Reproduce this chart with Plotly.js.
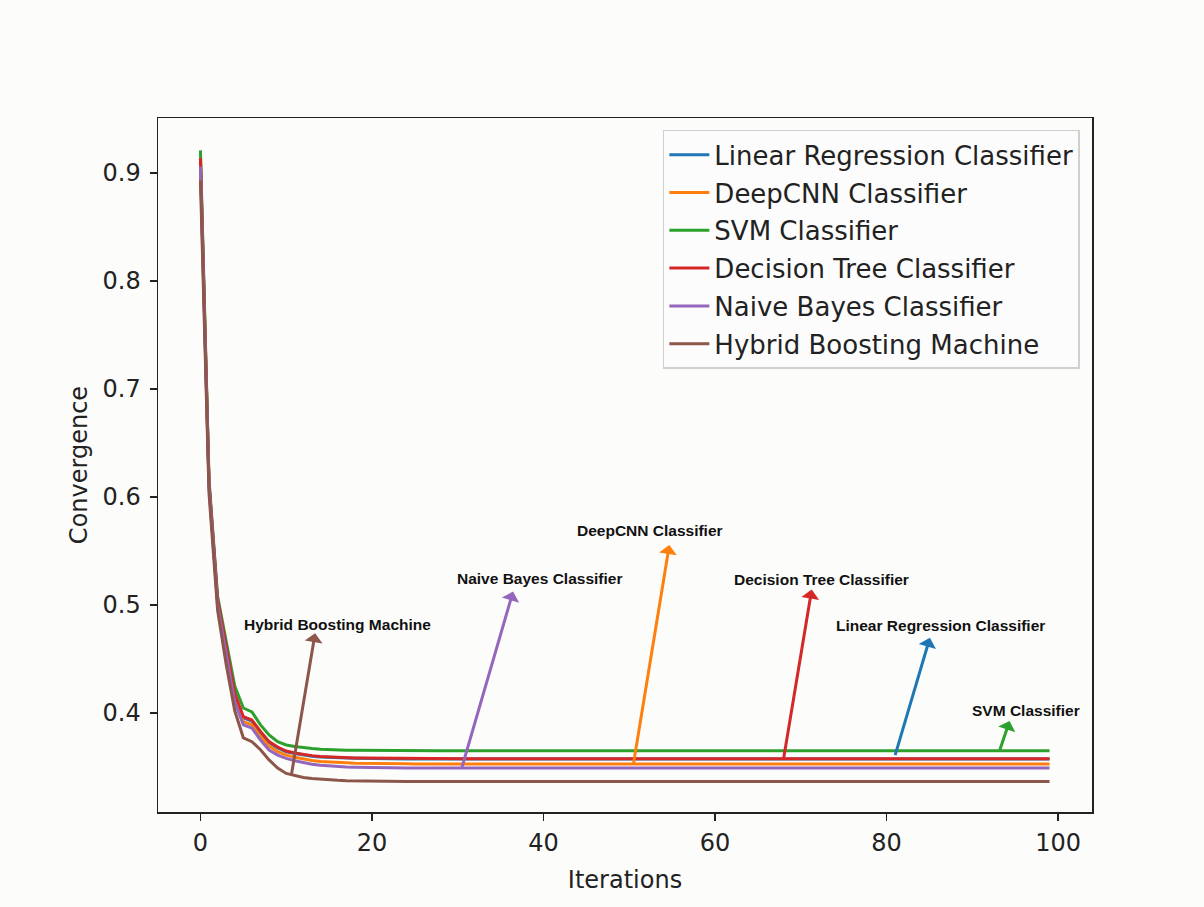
<!DOCTYPE html>
<html>
<head>
<meta charset="utf-8">
<script src="https://cdn.plot.ly/plotly-3.0.1.min.js"></script>
<style>html,body{margin:0;padding:0;background:#fcfcfb;}#chart{width:1204px;height:907px;}</style>
</head>
<body>
<div id="chart"></div>
<script>
const seriesNames = ["Linear Regression Classifier","DeepCNN Classifier","SVM Classifier","Decision Tree Classifier","Naive Bayes Classifier","Hybrid Boosting Machine"];
const seriesColors = ["#1f77b4","#ff7f0e","#2ca02c","#d62728","#9467bd","#8c564b"];

const linearRegression = [
0.91,0.612,0.503,0.46,0.416,0.3955,0.3925,0.382,0.3726,0.3677,
0.3641,0.3624,0.361,0.36,0.3593,0.3588,0.3585,0.3582,0.358,0.3578,
0.3577,0.3576,0.3575,0.3575,0.3574,0.3574,0.3574,0.3574,0.3574,0.3574,
0.3574,0.3574,0.3574,0.3574,0.3574,0.3574,0.3574,0.3574,0.3574,0.3574,
0.3574,0.3574,0.3574,0.3574,0.3574,0.3574,0.3574,0.3574,0.3574,0.3574,
0.3574,0.3574,0.3574,0.3574,0.3574,0.3574,0.3574,0.3574,0.3574,0.3574,
0.3574,0.3574,0.3574,0.3574,0.3574,0.3574,0.3574,0.3574,0.3574,0.3574,
0.3574,0.3574,0.3574,0.3574,0.3574,0.3574,0.3574,0.3574,0.3574,0.3574,
0.3574,0.3574,0.3574,0.3574,0.3574,0.3574,0.3574,0.3574,0.3574,0.3574,
0.3574,0.3574,0.3574,0.3574,0.3574,0.3574,0.3574,0.3574,0.3574,0.3574];

const deepCNN = [
0.912,0.611,0.502,0.456,0.413,0.392,0.389,0.378,0.3694,0.3642,
0.361,0.359,0.3572,0.356,0.3551,0.3545,0.3541,0.3538,0.3535,0.3533,
0.3532,0.3531,0.353,0.3529,0.3529,0.3528,0.3528,0.3528,0.3528,0.3528,
0.3528,0.3528,0.3528,0.3528,0.3528,0.3528,0.3528,0.3528,0.3528,0.3528,
0.3528,0.3528,0.3528,0.3528,0.3528,0.3528,0.3528,0.3528,0.3528,0.3528,
0.3528,0.3528,0.3528,0.3528,0.3528,0.3528,0.3528,0.3528,0.3528,0.3528,
0.3528,0.3528,0.3528,0.3528,0.3528,0.3528,0.3528,0.3528,0.3528,0.3528,
0.3528,0.3528,0.3528,0.3528,0.3528,0.3528,0.3528,0.3528,0.3528,0.3528,
0.3528,0.3528,0.3528,0.3528,0.3528,0.3528,0.3528,0.3528,0.3528,0.3528,
0.3528,0.3528,0.3528,0.3528,0.3528,0.3528,0.3528,0.3528,0.3528,0.3528];

const svm = [
0.921,0.616,0.508,0.465,0.425,0.4046,0.401,0.389,0.3796,0.3735,
0.3704,0.369,0.3678,0.367,0.3664,0.366,0.3658,0.3656,0.3655,0.3654,
0.3653,0.3653,0.3652,0.3652,0.3652,0.3651,0.3651,0.3651,0.3651,0.3651,
0.3651,0.3651,0.3651,0.3651,0.3651,0.3651,0.3651,0.3651,0.3651,0.3651,
0.3651,0.3651,0.3651,0.3651,0.3651,0.3651,0.3651,0.3651,0.3651,0.3651,
0.3651,0.3651,0.3651,0.3651,0.3651,0.3651,0.3651,0.3651,0.3651,0.3651,
0.3651,0.3651,0.3651,0.3651,0.3651,0.3651,0.3651,0.3651,0.3651,0.3651,
0.3651,0.3651,0.3651,0.3651,0.3651,0.3651,0.3651,0.3651,0.3651,0.3651,
0.3651,0.3651,0.3651,0.3651,0.3651,0.3651,0.3651,0.3651,0.3651,0.3651,
0.3651,0.3651,0.3651,0.3651,0.3651,0.3651,0.3651,0.3651,0.3651,0.3651];

const decisionTree = [
0.914,0.613,0.505,0.461,0.418,0.3966,0.3935,0.383,0.3735,0.3685,
0.3648,0.363,0.3615,0.3605,0.3598,0.3593,0.3589,0.3586,0.3584,0.3582,
0.3581,0.358,0.3579,0.3578,0.3578,0.3577,0.3577,0.3577,0.3577,0.3577,
0.3577,0.3577,0.3577,0.3577,0.3577,0.3577,0.3577,0.3577,0.3577,0.3577,
0.3577,0.3577,0.3577,0.3577,0.3577,0.3577,0.3577,0.3577,0.3577,0.3577,
0.3577,0.3577,0.3577,0.3577,0.3577,0.3577,0.3577,0.3577,0.3577,0.3577,
0.3577,0.3577,0.3577,0.3577,0.3577,0.3577,0.3577,0.3577,0.3577,0.3577,
0.3577,0.3577,0.3577,0.3577,0.3577,0.3577,0.3577,0.3577,0.3577,0.3577,
0.3577,0.3577,0.3577,0.3577,0.3577,0.3577,0.3577,0.3577,0.3577,0.3577,
0.3577,0.3577,0.3577,0.3577,0.3577,0.3577,0.3577,0.3577,0.3577,0.3577];

const naiveBayes = [
0.906,0.609,0.5,0.453,0.41,0.389,0.386,0.375,0.3657,0.361,
0.358,0.3558,0.354,0.3525,0.3515,0.3508,0.3503,0.3499,0.3497,0.3495,
0.3494,0.3493,0.3492,0.3492,0.3491,0.3491,0.3491,0.3491,0.3491,0.3491,
0.3491,0.3491,0.3491,0.3491,0.3491,0.3491,0.3491,0.3491,0.3491,0.3491,
0.3491,0.3491,0.3491,0.3491,0.3491,0.3491,0.3491,0.3491,0.3491,0.3491,
0.3491,0.3491,0.3491,0.3491,0.3491,0.3491,0.3491,0.3491,0.3491,0.3491,
0.3491,0.3491,0.3491,0.3491,0.3491,0.3491,0.3491,0.3491,0.3491,0.3491,
0.3491,0.3491,0.3491,0.3491,0.3491,0.3491,0.3491,0.3491,0.3491,0.3491,
0.3491,0.3491,0.3491,0.3491,0.3491,0.3491,0.3491,0.3491,0.3491,0.3491,
0.3491,0.3491,0.3491,0.3491,0.3491,0.3491,0.3491,0.3491,0.3491,0.3491];

const hybridBoosting = [
0.893,0.603,0.495,0.445,0.402,0.377,0.3734,0.366,0.3565,0.349,
0.344,0.342,0.3403,0.3393,0.3385,0.338,0.3376,0.3373,0.3371,0.3369,
0.3368,0.3367,0.3367,0.3366,0.3366,0.3366,0.3366,0.3366,0.3366,0.3366,
0.3366,0.3366,0.3366,0.3366,0.3366,0.3366,0.3366,0.3366,0.3366,0.3366,
0.3366,0.3366,0.3366,0.3366,0.3366,0.3366,0.3366,0.3366,0.3366,0.3366,
0.3366,0.3366,0.3366,0.3366,0.3366,0.3366,0.3366,0.3366,0.3366,0.3366,
0.3366,0.3366,0.3366,0.3366,0.3366,0.3366,0.3366,0.3366,0.3366,0.3366,
0.3366,0.3366,0.3366,0.3366,0.3366,0.3366,0.3366,0.3366,0.3366,0.3366,
0.3366,0.3366,0.3366,0.3366,0.3366,0.3366,0.3366,0.3366,0.3366,0.3366,
0.3366,0.3366,0.3366,0.3366,0.3366,0.3366,0.3366,0.3366,0.3366,0.3366];

const allSeries = [linearRegression, deepCNN, svm, decisionTree, naiveBayes, hybridBoosting];

const labelNames = ["Hybrid Boosting Machine","Naive Bayes Classifier","DeepCNN Classifier","Decision Tree Classifier","Linear Regression Classifier","SVM Classifier"];
const labelColorIdx = [5,4,1,3,0,2];
const labelTextX = [16.0, 39.5, 52.4, 72.4, 86.3, 96.2];
const labelTextY = [0.4824, 0.525, 0.5694, 0.524, 0.4806, 0.4019];
const arrowTailX = [10.6, 30.5, 50.5, 68.0, 81.0, 93.2];
const arrowTailY = [0.3426, 0.350, 0.3537, 0.358, 0.361, 0.3657];
const arrowHeadX = [13.4, 36.5, 54.7, 71.3, 85.1, 94.4];
const arrowHeadY = [0.4753, 0.5139, 0.557, 0.5157, 0.471, 0.394];

const iterations = linearRegression.map((_, i) => i);

const traces = allSeries.map((ys, k) => ({
  x: iterations, y: ys, type: 'scatter', mode: 'lines', name: seriesNames[k],
  legendgroup: 'g' + k,
  line: {color: seriesColors[k], width: 3}
}));

const annotations = [];
labelNames.forEach((t, i) => {
  const c = seriesColors[labelColorIdx[i]];
  annotations.push({
    xref: 'x', yref: 'y', axref: 'x', ayref: 'y',
    x: arrowTailX[i], y: arrowTailY[i], ax: arrowHeadX[i], ay: arrowHeadY[i],
    text: '', showarrow: true, arrowside: 'start', arrowhead: 2, arrowsize: 1.25,
    arrowwidth: 3, arrowcolor: c, standoff: 0, startstandoff: 0,
    font: {size: 1}
  });
  annotations.push({
    xref: 'x', yref: 'y', x: labelTextX[i], y: labelTextY[i], text: '<b>' + t + '</b>',
    showarrow: false, xanchor: 'center', yanchor: 'middle',
    font: {family: 'Liberation Sans, Arial, sans-serif', size: 15.5, color: '#111'}
  });
});

const axisFont = {family: 'DejaVu Sans, sans-serif', size: 24, color: '#222'};

const layout = {
  width: 1204, height: 907,
  paper_bgcolor: '#fcfcfb', plot_bgcolor: '#fcfcfb',
  margin: {l: 158, r: 112, t: 118, b: 95},
  showlegend: true,
  xaxis: {
    range: [-4.95, 103.95], tickvals: [0,20,40,60,80,100], ticktext: ['0','20','40','60','80','100'],
    ticks: 'outside', ticklen: 7, tickwidth: 1.5, tickcolor: '#222',
    showline: true, linecolor: '#222', linewidth: 1.5, mirror: true,
    showgrid: false, zeroline: false, tickfont: axisFont, ticklabelstandoff: 2,
    title: {text: 'Iterations', font: axisFont, standoff: 15}
  },
  yaxis: {
    range: [0.3083, 0.951], tickvals: [0.4,0.5,0.6,0.7,0.8,0.9], ticktext: ['0.4','0.5','0.6','0.7','0.8','0.9'],
    ticks: 'outside', ticklen: 7, tickwidth: 1.5, tickcolor: '#222',
    showline: true, linecolor: '#222', linewidth: 1.5, mirror: true,
    showgrid: false, zeroline: false, tickfont: axisFont, ticklabelstandoff: 4,
    title: {text: 'Convergence', font: axisFont, standoff: 8}
  },
  legend: {
    x: 0.987, y: 0.983, xanchor: 'right', yanchor: 'top',
    bgcolor: 'rgba(252,252,251,0.85)', bordercolor: '#d0d0d0', borderwidth: 1.5,
    font: {family: 'DejaVu Sans, sans-serif', size: 26, color: '#222'},
    tracegroupgap: 1, itemwidth: 40
  },
  annotations: annotations
};

Plotly.newPlot('chart', traces, layout, {displayModeBar: false, staticPlot: true});
</script>
</body>
</html>
